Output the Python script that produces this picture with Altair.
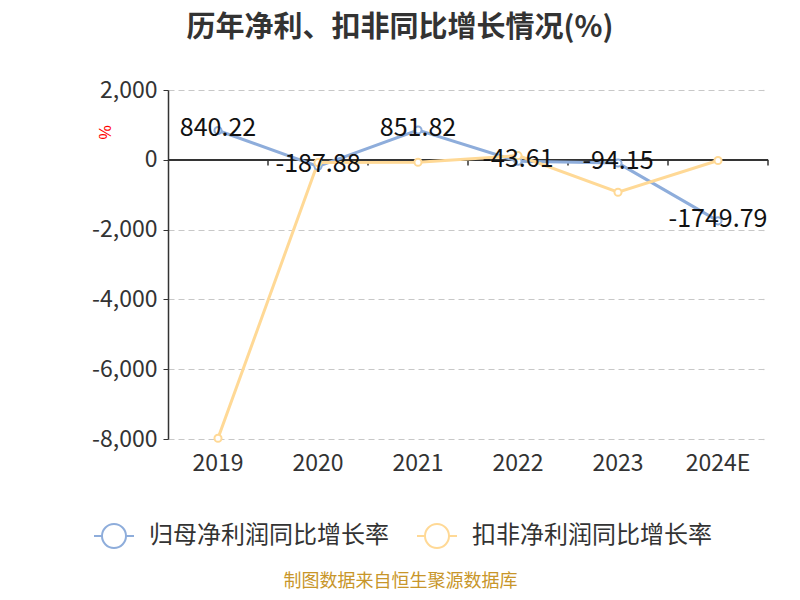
import altair as alt
import pandas as pd

years = ["2019", "2020", "2021", "2022", "2023", "2024E"]
s1_name = "归母净利润同比增长率"
s2_name = "扣非净利润同比增长率"
s1 = [840.22, -187.88, 851.82, -43.61, -94.15, -1749.79]
s2 = [-7980, -80, -70, 120, -930, -20]
blue = "#8eaddb"
orange = "#ffd996"
FONT = "Noto Sans CJK SC"

rows = []
for y, a, b in zip(years, s1, s2):
    rows.append({"year": y, "series": s1_name, "value": a, "k": 0})
    rows.append({"year": y, "series": s2_name, "value": b, "k": 1})
df = pd.DataFrame(rows)
lab = pd.DataFrame({"year": years, "value": s1, "label": [f"{v:.2f}" for v in s1]})
yrs = pd.DataFrame({"year": years})

xaxis = alt.Axis(title="制图数据来自恒生聚源数据库", titleColor="#c8962a",
                 titleFontSize=18, titleFontWeight="normal", titleFont=FONT,
                 titleX=232, titleY=142, titleBaseline="middle",
                 labelAngle=0, labelFontSize=23, labelColor="#333",
                 labelFont=FONT, labelPadding=13,
                 domain=False, ticks=False, grid=False)
yaxis = alt.Axis(values=[-8000, -6000, -4000, -2000, 0, 2000],
                 labelExpr="datum.value < 0 ? '-' + format(-datum.value, ',') : format(datum.value, ',')",
                 title="%", titleColor="red", titleFontSize=16,
                 titleFontWeight="normal", titleX=-63, titleY=42,
                 titleAngle=-90, titleBaseline="middle",
                 labelFontSize=23, labelColor="#333", labelFont=FONT,
                 labelPadding=6, domainColor="#333", domainWidth=1.5,
                 tickColor="#333", tickSize=5,
                 grid=True, gridDash=[6, 4], gridColor="#c8c8c8", gridWidth=1.2)
xscale = alt.Scale(type="band", paddingInner=0, paddingOuter=0)
yscale = alt.Scale(domain=[-8000, 2000], nice=False)

def X(**kw):
    return alt.X("year:N", sort=years, scale=xscale, axis=xaxis, **kw)

def Y():
    return alt.Y("value:Q", scale=yscale, axis=yaxis)

color_scale = alt.Scale(domain=[s1_name, s2_name], range=[blue, orange])
symbol_path = ("M-1,0L-0.6,0M0.6,0L1,0"
               "M-0.6,0A0.6,0.6 0 1,1 0.6,0A0.6,0.6 0 1,1 -0.6,0Z")

zero = alt.Chart(yrs).mark_rule(color="#333", strokeWidth=1.5).encode(y=alt.datum(0))
ticks = alt.Chart(yrs).mark_rule(color="#333", strokeWidth=1.5).encode(
    x=X(bandPosition=1),
    y=alt.datum(0), y2=alt.datum(-160))

lines = alt.Chart(df).mark_line(strokeWidth=3).encode(
    x=X(), y=Y(),
    color=alt.Color("series:N", scale=color_scale, title=None,
                    legend=alt.Legend(orient="none", legendX=-75, legendY=425,
                                      direction="horizontal",
                                      symbolType=symbol_path, symbolSize=1600,
                                      symbolStrokeWidth=2, symbolFillColor="white",
                                      labelFontSize=24, labelColor="#333", labelFont=FONT,
                                      labelLimit=0, labelOffset=14, columnPadding=24)),
    order="k:Q", detail="series:N")

points = alt.Chart(df).mark_circle(fill="white", fillOpacity=1, strokeWidth=2, size=50, opacity=1).encode(
    x=X(), y=Y(),
    stroke=alt.Stroke("series:N", scale=color_scale, legend=None))

labels = alt.Chart(lab).mark_text(fontSize=25, dy=-2, color="#111", font=FONT).encode(
    x=X(), y=Y(), text="label:N")

chart = alt.layer(zero, ticks, lines, points, labels).properties(
    width=600, height=349,
    title=alt.TitleParams("历年净利、扣非同比增长情况(%)", fontSize=29, fontWeight="bold",
                          color="#333", font=FONT, dx=-68, offset=36, anchor="middle"),
    autosize="none",
    padding={"left": 160, "top": 82, "right": 24, "bottom": 153},
).configure_view(stroke=None)

chart.save("out.html", embed_options={"renderer": "svg", "actions": False})
